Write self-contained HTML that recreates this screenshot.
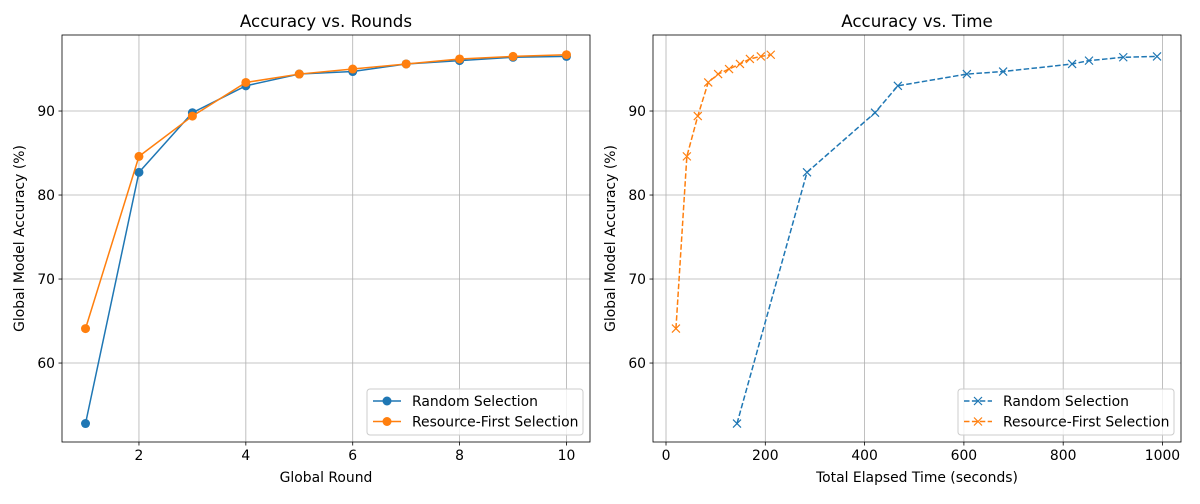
<!DOCTYPE html>
<html><head><meta charset="utf-8"><style>
body{margin:0;background:#fff;font-family:"DejaVu Sans","Liberation Sans",sans-serif;}
svg text{font-family:"DejaVu Sans","Liberation Sans",sans-serif;fill:#000;}
</style></head><body>
<svg id="c" width="1200" height="500" viewBox="0 0 1200 500" xmlns="http://www.w3.org/2000/svg"></svg>
<script>
const rounds = [1,2,3,4,5,6,7,8,9,10];
const accRandom = [52.8,82.7,89.8,93.0,94.4,94.7,95.6,96.0,96.4,96.5];
const accResource = [64.1,84.6,89.4,93.4,94.4,95.0,95.6,96.2,96.5,96.7];
const timeRandom = [143,284,421,467,606,679,818,852,921,989];
const timeResource = [20,42,64,85,105,127,149,169,191,211];
const xTicksLeft = [2,4,6,8,10];
const xTicksRight = [0,200,400,600,800,1000];
const yTicks = [60,70,80,90];

const NS='http://www.w3.org/2000/svg';
const svg=document.getElementById('c');
const FS=13.9;
function mk(tag,attrs,parent){const e=document.createElementNS(NS,tag);for(const k in attrs)e.setAttribute(k,attrs[k]);(parent||svg).appendChild(e);return e;}

function panel(cfg){
  const g=mk('g',{});
  
  
  const L=cfg.L,R=cfg.R,T=35,B=442;
  const sx=v=>L+(v-cfg.xmin)/(cfg.xmax-cfg.xmin)*(R-L);
  const sy=v=>T+(cfg.ymax-v)/(cfg.ymax-cfg.ymin)*(B-T);
  cfg.xt.forEach(t=>{
    const x=sx(t);
    const gl=mk('line',{x1:x,x2:x,y1:T,y2:B,stroke:'#b0b0b0','stroke-width':0.8},g);
    
    mk('line',{x1:x,x2:x,y1:B,y2:B+3.5,stroke:'#000','stroke-width':0.8},g);
    const tx=mk('text',{x:x,y:B+18,'font-size':FS,'text-anchor':'middle'},g);tx.textContent=t;
    
  });
  yTicks.forEach(t=>{
    const y=sy(t);
    const gl=mk('line',{x1:L,x2:R,y1:y,y2:y,stroke:'#b0b0b0','stroke-width':0.8},g);
    
    mk('line',{x1:L-3.5,x2:L,y1:y,y2:y,stroke:'#000','stroke-width':0.8},g);
    const tx=mk('text',{x:L-7,y:y+5,'font-size':FS,'text-anchor':'end'},g);tx.textContent=t;
    
  });
  const series=[{xs:cfg.x1,ys:accRandom,c:'#1f77b4',n:'series-random'},{xs:cfg.x2,ys:accResource,c:'#ff7f0e',n:'series-resource-first'}];
  series.forEach(s=>{
    const pts=s.xs.map((v,i)=>sx(v)+','+sy(s.ys[i])).join(' ');
    const pl=mk('polyline',{points:pts,fill:'none',stroke:s.c,'stroke-width':1.5,'stroke-dasharray':cfg.dash?'5.5,2.4':'none'},g);
    
    s.xs.forEach((v,i)=>{
      const x=sx(v),y=sy(s.ys[i]);
      let m;
      if(cfg.dash){m=mk('path',{d:`M${x-4} ${y-4}L${x+4} ${y+4}M${x-4} ${y+4}L${x+4} ${y-4}`,stroke:s.c,'stroke-width':1.2},g);}
      else m=mk('circle',{cx:x,cy:y,r:4.5,fill:s.c},g);
      
    });
  });
  const fr=mk('rect',{x:L,y:T,width:R-L,height:B-T,fill:'none',stroke:'#000','stroke-width':0.8},g);
  
  const ti=mk('text',{x:(L+R)/2,y:27,'font-size':16.7,'text-anchor':'middle'},g);ti.textContent=cfg.title;
  
  const xl=mk('text',{x:(L+R)/2,y:482,'font-size':FS,'text-anchor':'middle'},g);xl.textContent=cfg.xlabel;
  
  const yl=mk('text',{x:0,y:0,'font-size':FS,'text-anchor':'middle',transform:`translate(${L-38},${(T+B)/2}) rotate(-90)`},g);yl.textContent='Global Model Accuracy (%)';
  
  const lg=mk('g',{},g);
  const lx=R-223,ly=389;
  mk('rect',{x:lx,y:ly,width:216,height:46,rx:3,fill:'#fff','fill-opacity':0.8,stroke:'#ccc'},lg);
  series.forEach((s,i)=>{
    const y=ly+12+i*20.5;
    mk('line',{x1:lx+6,x2:lx+34,y1:y,y2:y,stroke:s.c,'stroke-width':1.5,'stroke-dasharray':cfg.dash?'5.5,2.4':'none'},lg);
    const m=cfg.dash?mk('path',{d:`M${lx+16} ${y-4}L${lx+24} ${y+4}M${lx+16} ${y+4}L${lx+24} ${y-4}`,stroke:s.c,'stroke-width':1.2},lg):mk('circle',{cx:lx+20,cy:y,r:4.5,fill:s.c},lg);
    const t=mk('text',{x:lx+45,y:y+5,'font-size':FS},lg);t.textContent=i?'Resource-First Selection':'Random Selection';
    
  });
}
panel({name:'accuracy-vs-rounds',L:62,R:590,xmin:0.56,xmax:10.44,ymin:50.6,ymax:99.05,xt:xTicksLeft,x1:rounds,x2:rounds,dash:false,title:'Accuracy vs. Rounds',xlabel:'Global Round'});
panel({name:'accuracy-vs-time',L:653,R:1181,xmin:-26.2,xmax:1037.3,ymin:50.6,ymax:99.05,xt:xTicksRight,x1:timeRandom,x2:timeResource,dash:true,title:'Accuracy vs. Time',xlabel:'Total Elapsed Time (seconds)'});
</script>
</body></html>
